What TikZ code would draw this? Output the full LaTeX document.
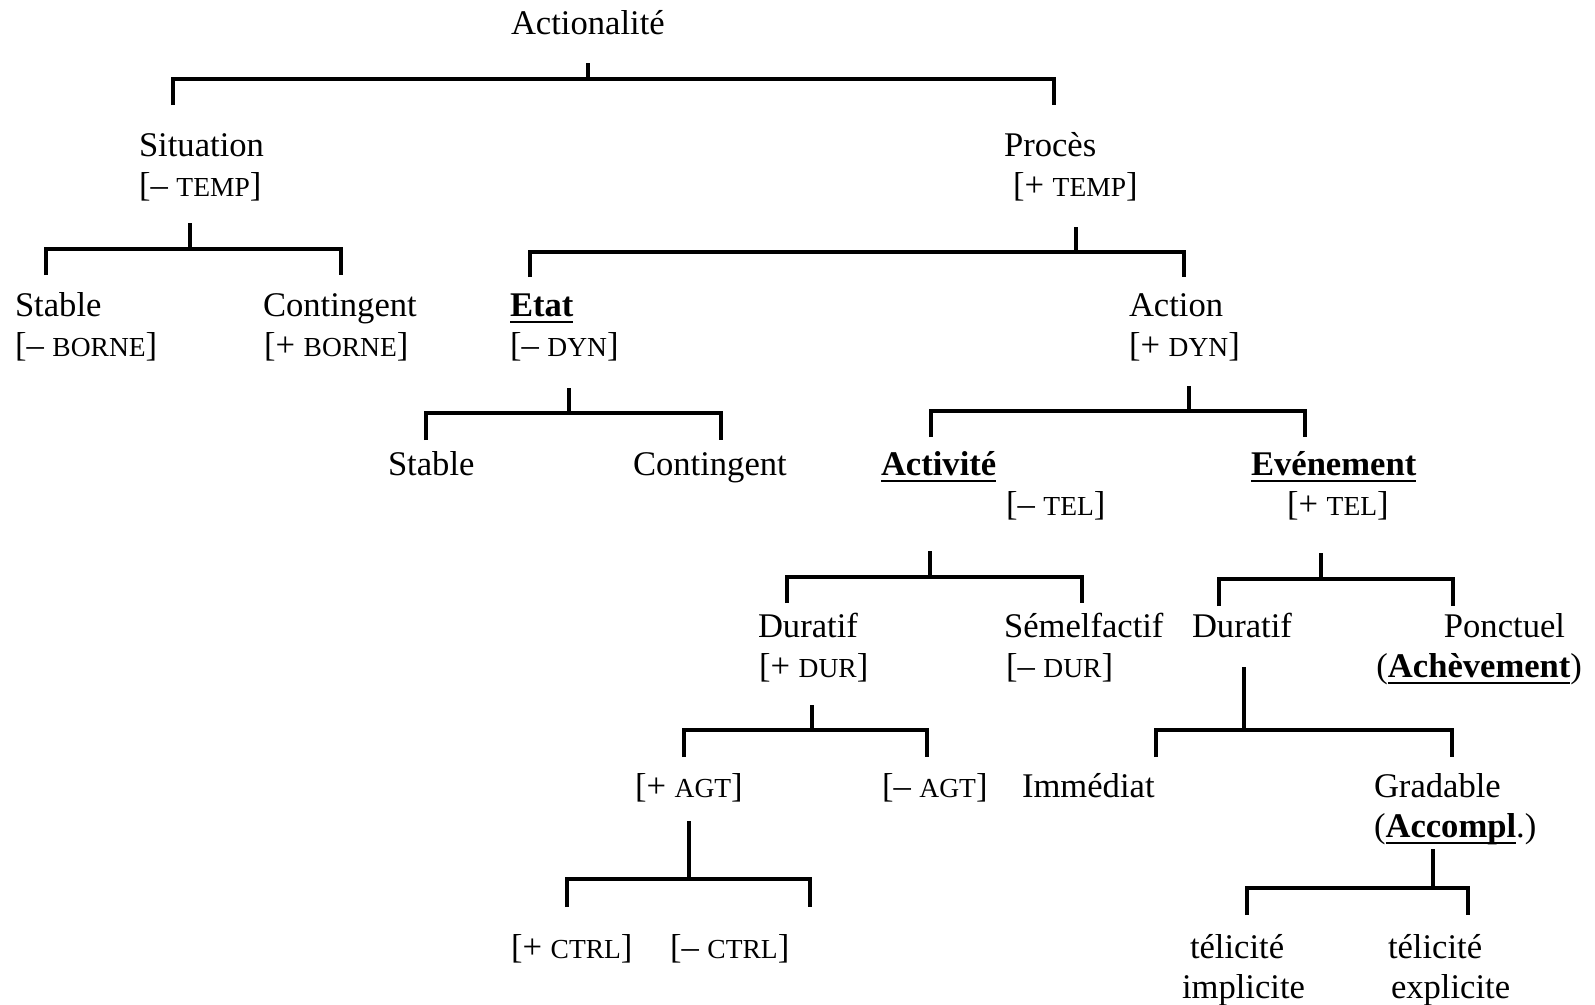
\documentclass[tikz,border=0pt]{standalone}
\usepackage{fontspec}
\setmainfont{Liberation Serif}
\newcommand\fc[1]{{\fontsize{27.5}{30}\selectfont #1}}
\newcommand\ulb[1]{\setbox0\hbox{\bfseries #1}\rlap{\rule[-7pt]{\wd0}{1.8pt}}\box0}
\newcommand\bracket[7]{%
  \coordinate (#1s) at (#2,#3);
  \coordinate (#1j) at (#2,#4);
  \coordinate (#1l) at (#5,#7);
  \coordinate (#1r) at (#6,#7);
  \draw[br] (#1s) -- (#1j);
  \draw[br] (#1l) -- (#1l |- #1j) -- (#1r |- #1j) -- (#1r);
}
\tikzset{
  lbl/.style={inner sep=0pt, outer sep=0pt, anchor=base west, font=\fontsize{34.6}{40}\selectfont},
  lble/.style={lbl, anchor=base east},
  br/.style={line width=3.2pt, black}
}
\begin{document}
\begin{tikzpicture}[x=1pt,y=-1pt]
\useasboundingbox[fill=white] (0,0) rectangle (1595,1004);

% text nodes
\node[lbl] (act) at (511,34) {Actionalité};
\node[lbl] (sit) at (139,156) {Situation};
\node[lbl] (sitF) at (139,196) {[– \fc{TEMP}]};
\node[lbl] (proc) at (1004,156) {Procès};
\node[lbl] (procF) at (1013,196) {[+ \fc{TEMP}]};

\node[lbl] (stA) at (15,316) {Stable};
\node[lbl] (stAF) at (15,356) {[– \fc{BORNE}]};
\node[lbl] (coA) at (263,316) {Contingent};
\node[lbl] (coAF) at (264,356) {[+ \fc{BORNE}]};
\node[lbl] (etat) at (510,316) {\ulb{Etat}};
\node[lbl] (etatF) at (510,356) {[– \fc{DYN}]};
\node[lbl] (action) at (1129,316) {Action};
\node[lbl] (actionF) at (1129,356) {[+ \fc{DYN}]};

\node[lbl] (stB) at (388,475) {Stable};
\node[lbl] (coB) at (633,475) {Contingent};
\node[lbl] (activ) at (881,475) {\ulb{Activité}};
\node[lbl] (telm) at (1006,515) {[– \fc{TEL}]};
\node[lbl] (even) at (1251,475) {\ulb{Evénement}};
\node[lbl] (telp) at (1287,515) {[+ \fc{TEL}]};

\node[lbl] (durA) at (758,637) {Duratif};
\node[lbl] (durAF) at (759,677) {[+ \fc{DUR}]};
\node[lbl] (semel) at (1004,637) {Sémelfactif};
\node[lbl] (semelF) at (1006,677) {[– \fc{DUR}]};
\node[lbl] (durB) at (1192,637) {Duratif};
\node[lble] (ponct) at (1565,637) {Ponctuel};
\node[lble] (achev) at (1582,677) {(\ulb{Achèvement})};

\node[lbl] (agtp) at (635,797) {[+ \fc{AGT}]};
\node[lbl] (agtm) at (882,797) {[– \fc{AGT}]};
\node[lbl] (immed) at (1022,797) {Immédiat};
\node[lbl] (grad) at (1374,797) {Gradable};
\node[lbl] (accompl) at (1374,837) {(\ulb{Accompl}.)};

\node[lbl] (ctrlp) at (511,958) {[+ \fc{CTRL}]};
\node[lbl] (ctrlm) at (670,958) {[– \fc{CTRL}]};
\node[lbl] (telA) at (1190,958) {télicité};
\node[lbl] (impl) at (1182,998) {implicite};
\node[lbl] (telB) at (1388,958) {télicité};
\node[lbl] (expl) at (1391,998) {explicite};

% brackets: name, stem x, stem top, bar y, left x, right x, bottom y
\bracket{root}{588}{63}{79}{173}{1054}{105}
\bracket{sit}{190}{223}{249}{46}{341}{275}
\bracket{proc}{1076}{227}{252}{530}{1184}{277}
\bracket{etat}{569}{388}{413}{426}{721}{440}
\bracket{action}{1189}{386}{411}{931}{1305}{437}
\bracket{activ}{930}{551}{577}{787}{1082}{603}
\bracket{even}{1321}{553}{579}{1219}{1453}{606}
\bracket{durA}{812}{705}{730}{684}{927}{757}
\bracket{durB}{1244}{667}{730}{1156}{1452}{757}
\bracket{agt}{689}{821}{879}{567}{810}{907}
\bracket{grad}{1433}{849}{888}{1247}{1468}{915}
\end{tikzpicture}
\end{document}
